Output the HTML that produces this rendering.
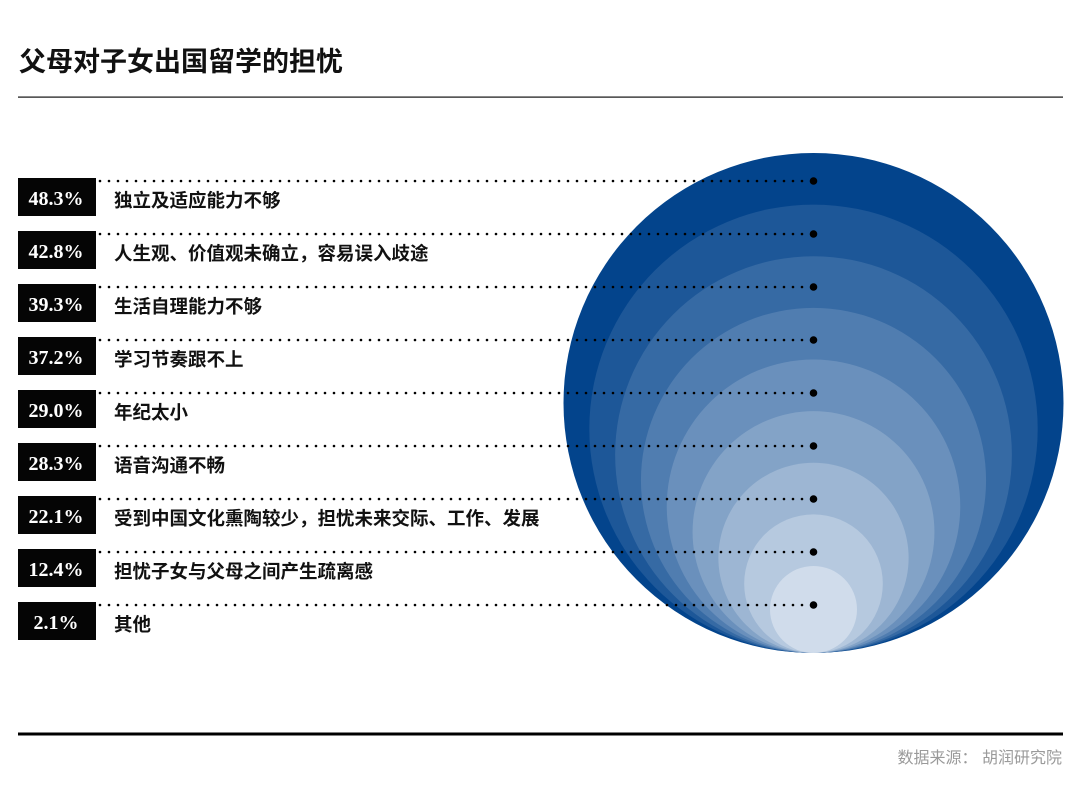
<!DOCTYPE html>
<html><head><meta charset="utf-8"><style>
body{margin:0;background:#fff;}
svg{display:block;}
.cjk{font-family:"Liberation Sans","Noto Sans CJK SC",sans-serif;}
</style></head><body>
<svg id="chart" width="1080" height="790" viewBox="0 0 1080 790">
<text x="19" y="71" class="cjk" font-size="27" font-weight="bold" fill="#111">父母对子女出国留学的担忧</text>
<rect x="18" y="96.5" width="1045" height="1.2" fill="#111"/>
<g id="circles"></g>
<g id="rows"></g>
<rect x="18" y="732.5" width="1045" height="3" fill="#000"/>
<text x="1062" y="763" text-anchor="end" class="cjk" font-size="16" fill="#9a9a9a">数据来源： 胡润研究院</text>
</svg>
<script>
const categories=["独立及适应能力不够","人生观、价值观未确立，容易误入歧途","生活自理能力不够","学习节奏跟不上","年纪太小","语音沟通不畅","受到中国文化熏陶较少，担忧未来交际、工作、发展","担忧子女与父母之间产生疏离感","其他"];
const values=[48.3,42.8,39.3,37.2,29.0,28.3,22.1,12.4,2.1];
const labels=["48.3%","42.8%","39.3%","37.2%","29.0%","28.3%","22.1%","12.4%","2.1%"];
const NS="http://www.w3.org/2000/svg";
const cx=813.5,bottom=653,maxD=500,minD=87;
const rowY0=181,rowStep=53;
const rowY=i=>rowY0+i*rowStep;
const n=values.length;
const diam=i=>maxD-(maxD-minD)*i/(n-1);
const c0=[3,68,140],c1=[208,220,235];
const col=i=>{const t=i/(n-1);return "rgb("+c0.map((v,k)=>Math.round(v+(c1[k]-v)*t)).join(",")+")";};
const cg=document.getElementById('circles');
const rg=document.getElementById('rows');
values.forEach((v,i)=>{
  const r=diam(i)/2;
  const c=document.createElementNS(NS,'circle');
  c.setAttribute('cx',cx);c.setAttribute('cy',bottom-r);c.setAttribute('r',r);c.setAttribute('fill',col(i));
  
  
  cg.appendChild(c);
});
values.forEach((v,i)=>{
  const y=rowY(i);
  const ln=document.createElementNS(NS,'line');
  ln.setAttribute('x1',100);ln.setAttribute('x2',cx-4);ln.setAttribute('y1',y);ln.setAttribute('y2',y);
  ln.setAttribute('stroke','#000');ln.setAttribute('stroke-width','2.6');ln.setAttribute('stroke-linecap','round');ln.setAttribute('stroke-dasharray','0 9');
  
  
  rg.appendChild(ln);
  const d=document.createElementNS(NS,'circle');
  d.setAttribute('cx',cx);d.setAttribute('cy',y);d.setAttribute('r',3.8);d.setAttribute('fill','#000');
  
  
  rg.appendChild(d);
  const b=document.createElementNS(NS,'rect');
  b.setAttribute('x',18);b.setAttribute('y',y-3);b.setAttribute('width',78);b.setAttribute('height',38);b.setAttribute('fill','#050505');
  
  
  rg.appendChild(b);
  const t=document.createElementNS(NS,'text');
  t.setAttribute('x',56);t.setAttribute('y',y+24);t.setAttribute('text-anchor','middle');
  t.setAttribute('font-family','"Liberation Serif",serif');t.setAttribute('font-weight','bold');t.setAttribute('font-size','20');t.setAttribute('fill','#fff');
  t.textContent=labels[i];
  
  
  rg.appendChild(t);
  const c=document.createElementNS(NS,'text');
  c.setAttribute('x',114);c.setAttribute('y',y+26);c.setAttribute('class','cjk');
  c.setAttribute('font-size','18.5');c.setAttribute('font-weight','bold');c.setAttribute('fill','#111');
  c.textContent=categories[i];
  
  
  rg.appendChild(c);
});
</script>
</body></html>
